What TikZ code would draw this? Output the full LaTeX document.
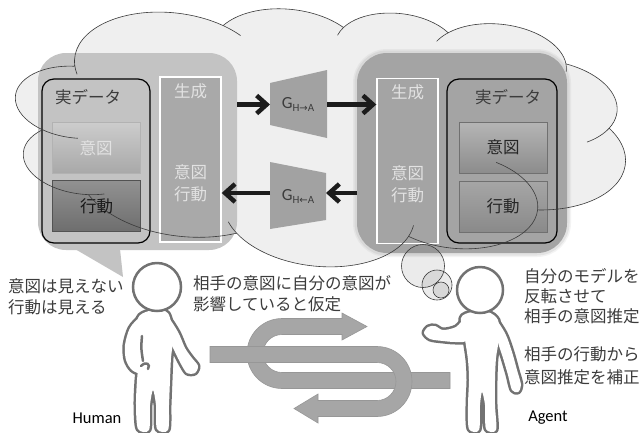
\documentclass[tikz,border=0pt]{standalone}
\usepackage{fontspec}
\setmainfont{Noto Sans CJK JP}
\newfontfamily\latinsans{Carlito}
\newfontfamily\symfont{DejaVu Sans}
\usetikzlibrary{arrows.meta}

\definecolor{cloudfill}{HTML}{EFEFEF}
\definecolor{cloudline}{HTML}{3A3A3A}
\definecolor{lbubble}{HTML}{C3C3C3}
\definecolor{rbubble}{HTML}{A4A4A4}
\definecolor{colfill}{HTML}{A9A9A9}
\definecolor{lbl}{HTML}{3C3C3C}
\definecolor{pale}{HTML}{E2E2E2}
\definecolor{trap}{HTML}{A2A2A2}
\definecolor{band}{HTML}{A6A6A6}
\definecolor{bandedge}{HTML}{979797}
\definecolor{figline}{HTML}{727272}
\definecolor{arrowink}{HTML}{1C1C1C}

% cloud outline in a 432 x 432 frame (lobes as elliptical arcs)
\newcommand\cloudshape{(39.00,143.70) coordinate (j0)
 arc[x radius=67.53, y radius=91.90, start angle=172.255, delta angle=128.11] coordinate (j1)
 arc[x radius=53.33, y radius=72.67, start angle=-152.02, delta angle=106.56] coordinate (j2)
 arc[x radius=43.65, y radius=59.45, start angle=-153.50, delta angle=116.17] coordinate (j3)
 arc[x radius=48.57, y radius=65.95, start angle=-139.71, delta angle=129.50] coordinate (j4)
 arc[x radius=53.33, y radius=72.73, start angle=-74.77, delta angle=97.98] coordinate (j5)
 arc[x radius=67.75, y radius=92.20, start angle=-37.52, delta angle=119.38] coordinate (j6)
 arc[x radius=57.85, y radius=78.67, start angle=0.46, delta angle=121.52] coordinate (j7)
 arc[x radius=67.52, y radius=92.15, start angle=16.84, delta angle=129.38] coordinate (j8)
 arc[x radius=77.20, y radius=105.43, start angle=58.98, delta angle=91.20] coordinate (j9)
 arc[x radius=43.60, y radius=59.18, start angle=83.31, delta angle=139.79] coordinate (j10)
 arc[x radius=43.45, y radius=59.45, start angle=120.36, delta angle=143.75] -- cycle}

% figure outlines
\newcommand\humantorso{plot[smooth cycle, tension=0.5] coordinates {(149,311) (138,318) (139,340) (139,360) (137,380) (136,405) (138,429) (149,430) (150,405) (153,390) (156,405) (157,429) (168,430) (169,405) (170,380) (171,358) (173,338) (170,318) (165,311)}}
\newcommand\humanlarm{plot[smooth cycle, tension=0.5] coordinates {(140,318) (130,328) (125,345) (126,360) (132,370) (142,374) (152,371) (150,364) (143,363) (141,348) (142,332)}}
\newcommand\humanrarm{plot[smooth cycle, tension=0.5] coordinates {(168,318) (178,332) (185,348) (192,358) (198,366) (195,373) (187,373) (181,364) (175,352) (170,340)}}
\newcommand\agenttorso{plot[smooth cycle, tension=0.5] coordinates {(472,312) (461,318) (465,340) (468,360) (469,380) (468,405) (469,429) (479,430) (480,405) (482,392) (485,405) (486,429) (496,430) (495,405) (495,380) (496,358) (499,338) (498,320) (488,312)}}
\newcommand\agentlarm{plot[smooth cycle, tension=0.5] coordinates {(466,318) (456,327) (443,330) (435,326) (428,327) (424,333) (430,339) (443,341) (456,342) (466,340)}}
\newcommand\agentrarm{plot[smooth cycle, tension=0.5] coordinates {(494,318) (505,333) (512,352) (517,370) (521,385) (518,392) (512,390) (508,375) (503,358) (498,342)}}

\begin{document}
\begin{tikzpicture}[x=1pt, y=-1pt,
  cloudframe/.style={xshift=320pt, yshift=-135pt, rotate=-6, xscale=1.419, yscale=0.6019, xshift=-216pt, yshift=216pt},
  jp/.style={font=\fontsize{16.5}{21}\selectfont, inner sep=0pt, text=lbl},
  paletext/.style={jp, text=pale},
  gencol/.style={draw=white, line width=1.4pt, minimum width=61pt, minimum height=165pt, inner sep=0pt},
  dataframe/.style={draw=black, line width=1.2pt, rounded corners=12pt, minimum width=108pt, minimum height=164pt, inner sep=0pt},
  databox/.style={minimum width=88pt, minimum height=51pt, inner sep=0pt, line width=0.7pt},
  bigarrow/.style={line width=4.5pt, draw=arrowink, -{Straight Barb[length=10pt,width=18pt]}},
  cloudstroke/.style={draw=cloudline, line width=0.6pt},
  tailcircle/.style={draw=cloudline, line width=0.6pt, fill=black, fill opacity=0.08},
  bandshape/.style={fill=band, draw=bandedge, line width=0.6pt},
  figout/.style={draw=figline, line width=5pt, line join=round},
  figdetail/.style={draw=figline, line width=2.5pt, line cap=round},
  nametag/.style={font=\latinsans\fontsize{16.5}{18}\selectfont, text=black, inner sep=0pt},
  glabel/.style={font=\latinsans\fontsize{17}{19}\selectfont, text=lbl, inner sep=0pt}
]
\useasboundingbox (0,0) rectangle (644,432);
\fill[white] (0,0) rectangle (644,432);

% thought cloud, fill only
\begin{scope}[cloudframe]
  \fill[cloudfill] \cloudshape;
\end{scope}

% left speech bubble
\fill[lbubble, rounded corners=28pt] (38,53) rectangle (237,250);
\fill[lbubble] (75,249) -- (123,277) -- (120,249) -- cycle;

% right bubble with a soft edge
\draw[rbubble, line width=8pt, opacity=0.12, rounded corners=30pt] (357,53) rectangle (567,253);
\draw[rbubble, line width=5pt, opacity=0.2, rounded corners=30pt] (357,53) rectangle (567,253);
\fill[rbubble, rounded corners=30pt] (357,53) rectangle (567,253);

% left bubble content
\node[gencol, fill=colfill] (lgen) at (190.5,159.5) {};
\node[paletext] (lgenT) at (190.5,91) {生成};
\node[paletext, align=center, font=\fontsize{16.5}{22}\selectfont] (lgenB) at (190.5,183) {意図\\行動};
\node[dataframe] (lreal) at (96,161) {};
\node[jp] (lrealT) at (88,97) {実データ};
\node[databox, top color=black!20, bottom color=black!34, draw=black!30] (lint) at (96,148) {};
\node[paletext] (lintT) at (96,148) {意図};
\node[databox, top color=black!43, bottom color=black!57, draw=black!68] (lact) at (96.5,206) {};
\node[jp, text=black!90] (lactT) at (96.5,206) {行動};

% right bubble content
\node[gencol] (rgen) at (407.5,161) {};
\node[paletext] (rgenT) at (407.5,92) {生成};
\node[paletext, align=center, font=\fontsize{16.5}{22}\selectfont] (rgenB) at (407.5,184) {意図\\行動};
\node[dataframe, minimum width=110pt] (rreal) at (502,161) {};
\node[jp] (rrealT) at (508,97) {実データ};
\node[databox, top color=black!29, bottom color=black!45, draw=black!56] (rint) at (503,147.5) {};
\node[jp, text=black!85] (rintT) at (503,147.5) {意図};
\node[databox, top color=black!35, bottom color=black!46, draw=black!56] (ract) at (503,206.5) {};
\node[jp, text=black!85] (ractT) at (503,206.5) {行動};

% generators
\fill[trap] (270,83) -- (327,70) -- (327,138) -- (270,125) -- cycle;
\fill[trap] (270,162) -- (326,173) -- (326,220) -- (270,229) -- cycle;
\node[glabel] (g1) at (298,104.5) {G\raisebox{-3pt}{\fontsize{11}{12}\selectfont H{\symfont\fontsize{10}{12}\selectfont →}A}};
\node[glabel] (g2) at (298,196) {G\raisebox{-3pt}{\fontsize{11}{12}\selectfont H{\symfont\fontsize{10}{12}\selectfont ←}A}};

\coordinate (lbOut) at (237,104.5);
\coordinate (g1In) at (270,104.5);
\coordinate (g1Out) at (327,104.5);
\coordinate (rbOut) at (357,193);
\coordinate (g2In) at (326,193);
\coordinate (g2Out) at (270,193);
\draw[bigarrow] (lbOut) -- (g1In);
\draw[bigarrow] (g1Out) -- (rgen.west |- g1Out);
\draw[bigarrow] (rbOut) -- (g2In);
\draw[bigarrow] (g2Out) -- (lgen.east |- g2Out);

% thought cloud outline and creases on top
\begin{scope}[cloudframe]
  \draw[cloudstroke] \cloudshape;
  \draw[cloudstroke]
    (j0) arc[x radius=67.53, y radius=91.90, start angle=172.255, delta angle=-9.06]
    (j1) arc[x radius=67.53, y radius=91.90, start angle=300.37, delta angle=13.89]
    (j2) arc[x radius=43.65, y radius=59.45, start angle=-153.50, delta angle=-14.22]
    (j3) arc[x radius=48.57, y radius=65.95, start angle=-139.71, delta angle=-16.59]
    (j4) arc[x radius=48.57, y radius=65.95, start angle=-10.21, delta angle=11.03]
    (j5) arc[x radius=53.33, y radius=72.73, start angle=23.21, delta angle=26.43]
    (j6) arc[x radius=57.85, y radius=78.67, start angle=0.46, delta angle=-64.49]
    (j7) arc[x radius=67.52, y radius=92.15, start angle=16.84, delta angle=-12.10]
    (j8) arc[x radius=67.52, y radius=92.15, start angle=146.22, delta angle=12.25]
    (j9) arc[x radius=43.60, y radius=59.18, start angle=83.31, delta angle=-15.08]
    (j10) arc[x radius=43.45, y radius=59.45, start angle=120.36, delta angle=-34.82];
\end{scope}

% thought bubbles towards the agent
\draw[tailcircle] (423,266) circle[radius=21.5];
\draw[tailcircle] (437,285) circle[radius=15];
\draw[tailcircle] (441,290) circle[radius=8];

% interlocking U-turn arrows
\draw[bandshape] (450,372.5) -- (282,372.5) arc[radius=19, start angle=90, delta angle=180]
  -- (342,334.5) -- (342,340) -- (367,326.5) -- (342,313) -- (342,318.5) -- (282,318.5)
  arc[radius=35, start angle=270, delta angle=-180] -- (450,388.5) -- cycle;
\draw[bandshape] (210,346.5) -- (377,346.5) arc[radius=35, start angle=270, delta angle=180]
  -- (318,416.5) -- (318,423) -- (294,408.5) -- (318,394) -- (318,400.5) -- (377,400.5)
  arc[radius=19, start angle=90, delta angle=-180] -- (210,362.5) -- cycle;

% human
\draw[figout] \humantorso; \draw[figout] \humanlarm; \draw[figout] \humanrarm;
\fill[white] \humantorso; \fill[white] \humanlarm; \fill[white] \humanrarm;
\draw[figdetail] (142,336) .. controls (141,348) .. (143,361);
\draw[figdetail] (141,366) .. controls (146,361) and (151,364) .. (148,369);
\draw[figline, line width=2.5pt, fill=white] (157,287) circle[radius=24];

% agent
\draw[figout] \agenttorso; \draw[figout] \agentlarm; \draw[figout] \agentrarm;
\fill[white] \agenttorso; \fill[white] \agentlarm; \fill[white] \agentrarm;
\draw[figline, line width=2.5pt, fill=white] (480,290) circle[radius=23];

% captions
\node[jp, anchor=west, align=left] (seen) at (8,296.5) {意図は見えない\\行動は見える};
\node[jp, anchor=west, align=left] (assume) at (193,294) {相手の意図に自分の意図が\\影響していると仮定};
\node[jp, anchor=west, align=left, font=\fontsize{16.5}{20}\selectfont] (invert) at (524,296) {自分のモデルを\\反転させて\\相手の意図推定};
\node[jp, anchor=west, align=left, font=\fontsize{16.5}{23}\selectfont] (correct) at (524,366) {相手の行動から\\意図推定を補正};
\node[nametag] (human) at (97,418) {Human};
\node[nametag] (agent) at (548,418) {Agent};
\end{tikzpicture}
\end{document}
